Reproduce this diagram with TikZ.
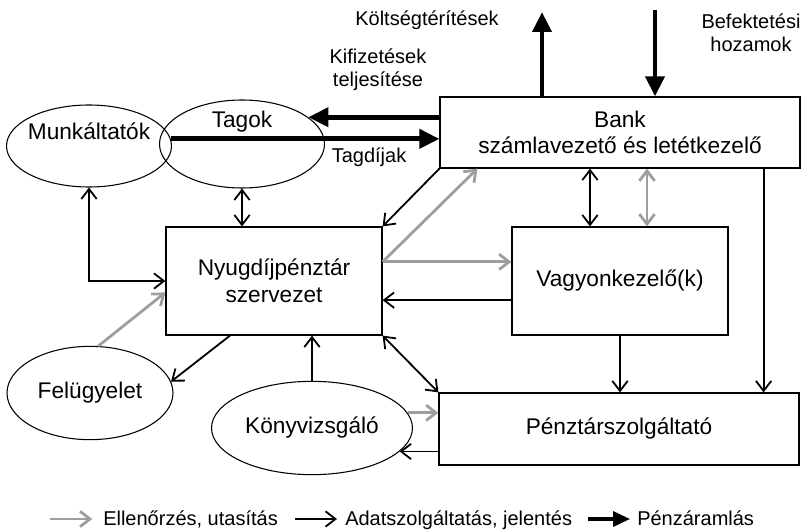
\documentclass[tikz,border=0pt]{standalone}
\usepackage{fontspec}
\setmainfont{Liberation Sans}
\usetikzlibrary{arrows.meta,shapes.geometric,calc}

\definecolor{ctrlgray}{gray}{0.62}
\tikzstyle{box} = [draw, line width=0.9pt, rectangle, inner sep=0pt, align=center]
\tikzstyle{oval} = [draw, line width=0.8pt, ellipse, inner sep=0pt]

\begin{document}
\begin{tikzpicture}[x=0.75pt,y=-0.75pt,
			font=\fontsize{17}{20}\selectfont,
			info/.style = {line width=1.35pt, >={Straight Barb[length=7.5pt,width=11.5pt]}},
			ctrl/.style = {info, line width=2.1pt, ctrlgray},
			money/.style = {line width=3.6pt, -{Triangle[length=15pt,width=14pt]}},
			lbl/.style = {font=\fontsize{15}{17}\selectfont, align=center}]
			\useasboundingbox (0,0) rectangle (803,531);
			% szereplok
			\node (3)[box, minimum width=270pt, minimum height=53.25pt] at (620,132.5) {Bank\\számlavezető és letétkezelő};
			\node (4)[box, minimum width=162pt, minimum height=81pt] at (274,281) {Nyugdíjpénztár\\szervezet};
			\node (5)[box, minimum width=162pt, minimum height=81pt] at (620,281) {Vagyonkezelő(k)};
			\node (6)[box, minimum width=270pt, minimum height=54pt] at (619,429) {Pénztárszolgáltató};
			\node (1)[oval, minimum width=123.75pt, minimum height=61.5pt, label={[yshift=11pt]center:Munkáltatók}] at (89,146) {};
			\node (2)[oval, minimum width=123.75pt, minimum height=66pt, label={[yshift=17pt]center:Tagok}] at (242,144) {};
			\node (7)[oval, minimum width=124.5pt, minimum height=70pt] at (90,393) {Felügyelet};
			\node (8)[oval, minimum width=150.75pt, minimum height=70pt] at (312,428) {Könyvizsgáló};
			
			% penzaramlas
			\coordinate (c1) at (542,12);
			\coordinate (c2) at (655,10);
			\draw[money] (3.north -| c1) -- (c1);
			\draw[money] (c2) -- (c2 |- 3.north);
			\draw[money] (3.west |- 2.22) -- (2.22);
			\draw[money] (1.5) -- (1.5 -| 3.west);
			\node (k)[lbl, anchor=base] at (427,26) {Költségtérítések};
			\node (b)[lbl] at (751,33) {Befektetési\\hozamok};
			\node (f)[lbl] at (378,70) {Kifizetések\\teljesítése};
			\node (t)[lbl, anchor=base] at (369,163) {Tagdíjak};
			
			% adatok, ellenorzes
			\draw[info,<->] (1.south) |- (4.west);
			\draw[info,<->] (2.south) -- (2.south |- 4.north);
			\draw[info,->] (3.south west) -- (4.north east);
			\draw[ctrl,->] (4.10) -- ($(3.south west)+(38,0)$);
			\draw[ctrl,->] (4.10) -- (4.10 -| 5.west);
			\draw[info,->] (5.190) -- (5.190 -| 4.east);
			\draw[info,<->] ($(5.north)+(-30,0)$) -- ($(3.south)+(-30,0)$);
			\draw[ctrl,<->] ($(5.north)+(27,0)$) -- ($(3.south)+(27,0)$);
			\coordinate (d) at ($(3.south east)+(-37,0)$);
			\draw[info,->] (d) -- (d |- 6.north);
			\draw[info,->] (5.south) -- (5.south |- 6.north);
			\draw[info,<->] (4.south east) -- (6.north west);
			\draw[info,->] ($(4.south)+(-44,0)$) -- (7.8);
			\draw[ctrl,->] (7.80) -- (4.186);
			\draw[info,->] (8.north) -- (8.north |- 4.south);
			\draw[ctrl,->] (8.9) -- (8.9 -| 6.west);
			\draw[info,->] (8.345 -| 6.west) -- (8.345);
			
			% jelmagyarazat
			\coordinate (a1) at (50,519);
			\coordinate (a2) at (295,519);
			\coordinate (a3) at (588,519);
			\node (l1)[lbl, anchor=base west, inner sep=0pt] at (103,525) {Ellenőrzés, utasítás};
			\node (l2)[lbl, anchor=base west, inner sep=0pt] at (345,525) {Adatszolgáltatás, jelentés};
			\node (l3)[lbl, anchor=base west, inner sep=0pt] at (637,525) {Pénzáramlás};
			\draw[ctrl,->,shorten >=8pt] (a1) -- (a1 -| l1.west);
			\draw[info,->,shorten >=6pt] (a2) -- (a2 -| l2.west);
			\draw[money,-{Triangle[length=13pt,width=11pt]},shorten >=5pt] (a3) -- (a3 -| l3.west);
		\end{tikzpicture}
\end{document}
